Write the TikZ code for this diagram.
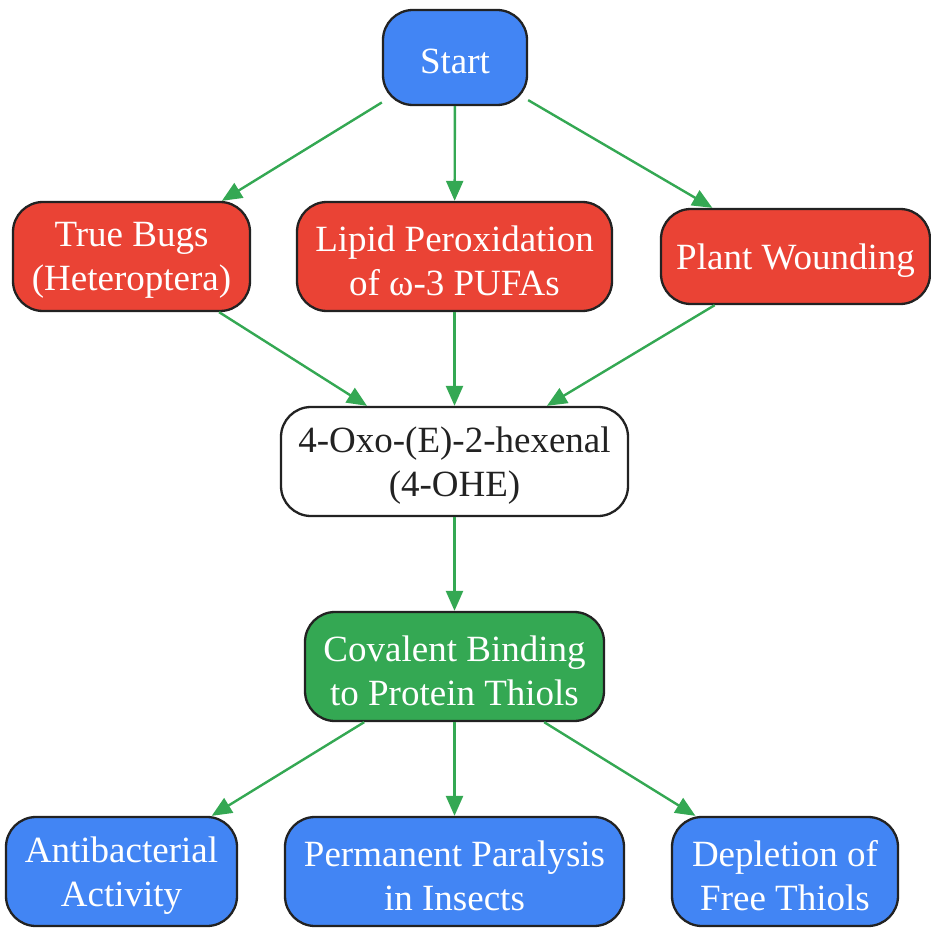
\documentclass[tikz,border=0pt]{standalone}
\usepackage{fontspec}
\setmainfont{Liberation Serif}
\usetikzlibrary{arrows.meta}
\definecolor{gblue}{HTML}{4285F4}
\definecolor{gred}{HTML}{EA4335}
\definecolor{ggreen}{HTML}{34A853}
\definecolor{edge}{HTML}{222222}
\begin{document}
\begin{tikzpicture}[x=1pt,y=-1pt,
  box/.style={draw=edge,line width=2.3pt,rounded corners=30pt,inner sep=0pt},
  bluebox/.style={box,fill=gblue},
  redbox/.style={box,fill=gred},
  greenbox/.style={box,fill=ggreen},
  whitebox/.style={box,fill=white},
  txt/.style={align=center,inner sep=0pt,font=\fontsize{37}{44}\selectfont,text=white},
  dtxt/.style={txt,text=edge},
  conn/.style={draw=ggreen,line width=2.4pt,-{Triangle[length=20pt,width=17pt]}}]
\useasboundingbox (0,0) rectangle (931,928);
\node[bluebox,minimum width=144pt,minimum height=95pt] (start) at (455,57.5) {};
\node[redbox,minimum width=237pt,minimum height=109pt] (bugs) at (131.5,256.5) {};
\node[redbox,minimum width=315pt,minimum height=109pt] (lipid) at (454.5,256.5) {};
\node[redbox,minimum width=269pt,minimum height=95pt] (plant) at (795.5,256.5) {};
\node[whitebox,minimum width=347pt,minimum height=109pt] (ohe) at (454.5,461.5) {};
\node[greenbox,minimum width=299pt,minimum height=109pt] (cov) at (454.5,666.5) {};
\node[bluebox,minimum width=231pt,minimum height=109pt] (anti) at (121.5,871.5) {};
\node[bluebox,minimum width=339pt,minimum height=109pt] (para) at (454.5,871.5) {};
\node[bluebox,minimum width=226pt,minimum height=109pt] (depl) at (785,871.5) {};
\node[txt] (tstart) at ([yshift=-4pt]start.center) {Start};
\node[txt] (tbugs) at ([yshift=-4pt]bugs.center) {True Bugs\\(Heteroptera)};
\node[txt] (tlipid) at ([yshift=-4pt]lipid.center) {Lipid Peroxidation\\of ω-3 PUFAs};
\node[txt] (tplant) at ([yshift=-4pt]plant.center) {Plant Wounding};
\node[dtxt] (tohe) at ([yshift=-4pt]ohe.center) {4-Oxo-(E)-2-hexenal\\(4-OHE)};
\node[txt] (tcov) at ([yshift=-4pt]cov.center) {Covalent Binding\\to Protein Thiols};
\node[txt] (tanti) at ([yshift=-4pt]anti.center) {Antibacterial\\Activity};
\node[txt] (tpara) at ([yshift=-4pt]para.center) {Permanent Paralysis\\in Insects};
\node[txt] (tdepl) at ([yshift=-4pt]depl.center) {Depletion of\\Free Thiols};
\draw[conn] (start) -- (bugs);
\draw[conn] (start) -- (lipid);
\draw[conn] (start) -- (plant);
\draw[conn] (bugs) -- (ohe);
\draw[conn] (lipid) -- (ohe);
\draw[conn] (plant) -- (ohe);
\draw[conn] (ohe) -- (cov);
\draw[conn] (cov) -- (anti);
\draw[conn] (cov) -- (para);
\draw[conn] (cov) -- (depl);
\end{tikzpicture}
\end{document}
